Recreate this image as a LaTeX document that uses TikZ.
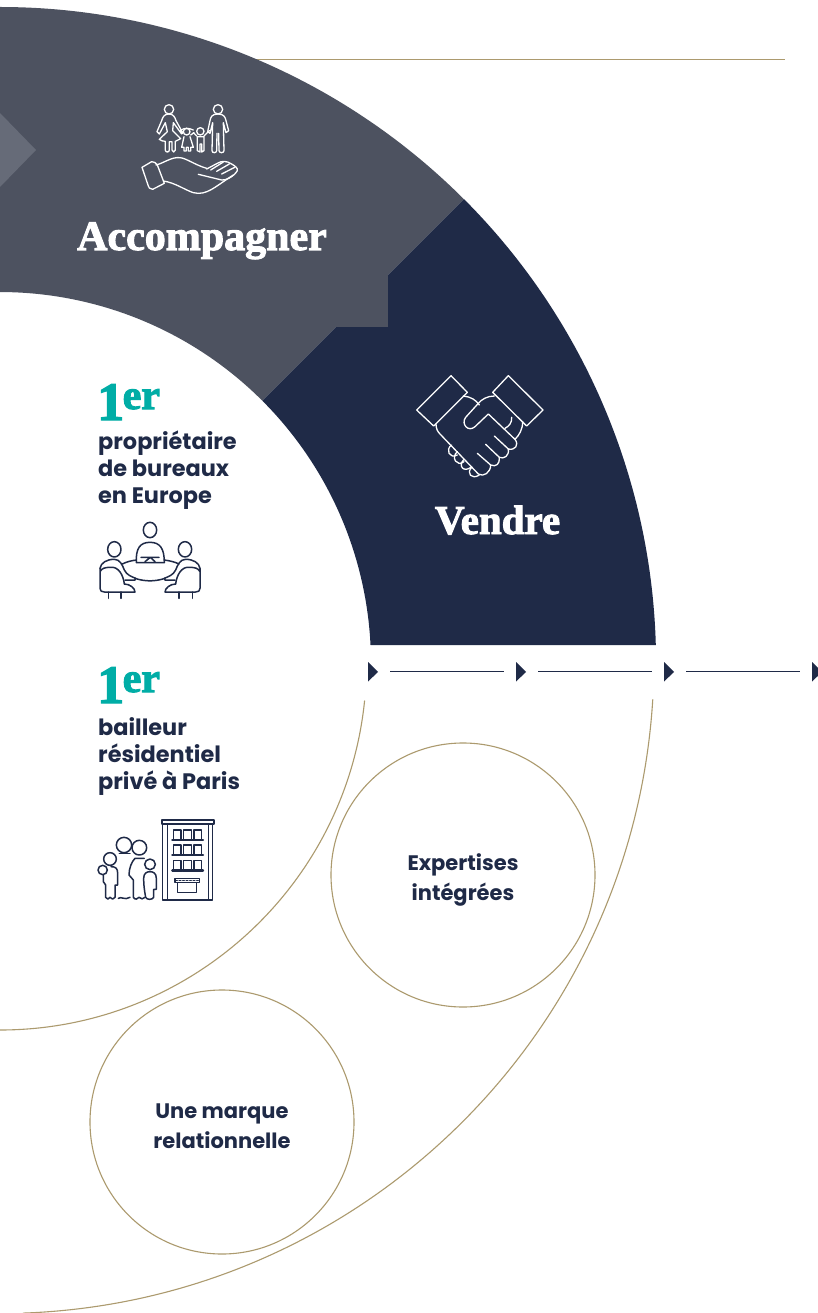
\documentclass[tikz,border=0pt]{standalone}
\usepackage{fontspec}
\newfontfamily\fat[UprightFont=* Bold,FakeBold=2.4]{Liberation Serif}
\newfontfamily\sfb[UprightFont=* Bold]{Poppins}
\definecolor{greyb}{HTML}{4D5260}
\definecolor{greyc}{HTML}{666B78}
\definecolor{navy}{HTML}{1F2A47}
\definecolor{teal2}{HTML}{00ADA6}
\definecolor{gold}{HTML}{AC9A6E}
\tikzset{
  goldline/.style={draw=gold,line width=1.1pt},
  iconw/.style={draw=white,line width=1.3pt,line join=round,line cap=round},
  iconn/.style={draw=navy,line width=1.5pt,line join=round,line cap=round},
  title/.style={font=\fat\fontsize{42}{42}\selectfont,text=white,inner sep=0pt,anchor=base},
  lab/.style={font=\sfb\fontsize{22.4}{27}\selectfont,text=navy,align=left,inner sep=0pt,anchor=north west},
  clab/.style={font=\sfb\fontsize{21}{30}\selectfont,text=navy,align=center,inner sep=0pt},
  rank/.style={font=\fat\fontsize{54}{54}\selectfont,text=teal2,inner sep=0pt,anchor=base west},
  tline/.style={draw=navy,line width=1pt},
  tri/.style={fill=navy},
}
\newcommand{\ranktext}{1\kern-1.5pt\raisebox{11pt}{\fontsize{42}{42}\selectfont er}}
\begin{document}
\begin{tikzpicture}[x=1pt,y=-1pt]
\useasboundingbox (0,0) rectangle (817,1313);
\fill[white] (0,0) rectangle (817,1313);
% top rule
\coordinate (ruleL) at (240,59.5);
\coordinate (ruleR) at (785,59.5);
\draw[goldline] (ruleL) -- (ruleR);
% grey sector
\fill[greyb] (0,7) arc[start angle=-90,end angle=-45,radius=656]
  -- (388,275) -- (388,327) -- (336,327) -- (262.3,400.7)
  arc[start angle=-45,end angle=-90,radius=371] -- cycle;
% navy sector
\fill[navy] (655.8,645) arc[start angle=-1.57,end angle=-45,radius=656]
  -- (388,275) -- (388,327) -- (336,327) -- (262.3,400.7)
  arc[start angle=-45,end angle=-2.78,radius=371] -- cycle;
% chevron
\fill[greyc] (0,113) -- (36,150) -- (0,187) -- cycle;
% gold arcs
\draw[goldline] (0,663.5) ++(5.8:366.5) arc[start angle=5.8,end angle=90,radius=366.5];
\draw[goldline] (0,659.5) ++(3.5:654) arc[start angle=3.5,end angle=88,radius=654];
% circles
\node[goldline,circle,minimum size=264pt,inner sep=0pt] (exp) at (463,875) {};
\node[goldline,circle,minimum size=264pt,inner sep=0pt] (rel) at (222,1122) {};
\node[clab] (expt) at (463,880) {Expertises\\intégrées};
\node[clab] (relt) at (222,1126) {Une marque\\relationnelle};
% timeline
\foreach \n/\xx in {a/368,b/516,c/664,d/812}{
  \fill[tri] (\xx,662) -- (\xx+10,672) -- (\xx,681.5) -- cycle;
}
\foreach \n/\l/\r in {a/390/504,b/538/652,c/686/800}{
  \coordinate (\n L) at (\l,671.5);
  \coordinate (\n R) at (\r,671.5);
  \draw[tline] (\n L) -- (\n R);
}
% titles
\node[title] (acc) at (202,250) {Accompagner};
\node[title,font=\fat\fontsize{41}{41}\selectfont] (ven) at (497.5,534) {Vendre};
% 1er blocks
\node[rank] (one1) at (97,420) {\ranktext};
\node[lab] (t1) at (98,431) {propriétaire\\de bureaux\\en Europe};
\node[rank] (one2) at (97,703) {\ranktext};
\node[lab] (t2) at (98,717) {bailleur\\résidentiel\\privé à Paris};
% handshake
\begin{scope}[shift={(400,360)},scale=1/3]
\draw[iconw] (153,47) -- (202,97) -- (101,198) -- (50,150) -- cycle;
\draw[iconw] (325,47) -- (278,97) -- (380,198) -- (429,150) -- cycle;
\draw[iconw] (190,108) .. controls (212,110) and (228,120) .. (238,135);
\draw[iconw] (283,108) .. controls (262,108) and (245,118) .. (235,130) -- (197,172)
  .. controls (182,192) and (205,218) .. (225,200) -- (265,162) -- (345,238)
  .. controls (358,255) and (345,272) .. (325,267) -- (283,228);
\draw[iconw] (325,267) .. controls (328,288) and (312,298) .. (298,292) -- (257,253);
\draw[iconw] (298,292) .. controls (300,312) and (288,322) .. (272,315) -- (232,280);
\draw[iconw] (272,315) .. controls (272,338) and (250,352) .. (235,342) -- (120,222) .. controls (112,214) and (108,205) .. (108,192);
\draw[iconw] (155,255) .. controls (135,268) and (148,298) .. (172,285);
\draw[iconw] (172,275) .. controls (152,292) and (170,322) .. (192,305);
\draw[iconw] (192,298) .. controls (172,318) and (192,340) .. (215,320);
\draw[iconw] (215,322) .. controls (198,340) and (215,360) .. (238,345);
\draw[iconw] (335,172) .. controls (336,188) and (328,198) .. (315,205);
\draw[iconw] (368,185) .. controls (368,208) and (358,225) .. (345,238);
\end{scope}
% family and hand
\begin{scope}[shift={(120,90)},scale=1/3]
\draw[iconw] (147,58) circle[radius=14];
\draw[iconw] (294,58) circle[radius=14];
\draw[iconw] (241,124) circle[radius=11];
\draw[iconw] (200,125) circle[radius=10];
\draw[iconw] (180,122) .. controls (195,112) and (205,114) .. (220,120);
% woman
\draw[iconw] (147,72) .. controls (132,72) and (128,82) .. (125,92) -- (111,125) -- (118,132) -- (136,98) -- (142,125) -- (118,148) .. controls (122,152) and (130,154) .. (136,154) -- (136,180) .. controls (136,188) and (148,188) .. (148,180) -- (148,155) -- (156,155) -- (156,180) .. controls (156,188) and (166,188) .. (166,180) -- (166,154) -- (182,146) -- (158,122) -- (160,98) -- (185,132);
\draw[iconw] (147,72) .. controls (160,72) and (165,82) .. (168,92) -- (188,128);
% man
\draw[iconw] (294,72) .. controls (275,72) and (272,82) .. (270,92) -- (263,125) -- (270,130) -- (278,98) -- (276,182) .. controls (276,190) and (290,190) .. (290,182) -- (291,130);
\draw[iconw] (294,72) .. controls (312,72) and (316,82) .. (318,92) -- (326,122) -- (318,128) -- (310,98) -- (312,182) .. controls (312,190) and (297,190) .. (297,182) -- (296,130);
% girl
\draw[iconw] (188,130) -- (180,122) (212,135) -- (222,128) (192,140) -- (185,172) -- (192,172) -- (192,183) -- (199,183) -- (199,172) -- (205,172) -- (205,183) -- (212,183) -- (212,172) -- (220,172) -- (210,140);
% boy
\draw[iconw] (230,138) -- (220,128) (252,138) -- (268,122) (232,140) -- (232,182) -- (240,186) -- (240,162) -- (245,162) -- (245,186) -- (252,182) -- (252,140) -- (232,140);
% hand
\draw[iconw] (66,232) -- (95,215) .. controls (102,215) and (108,218) .. (112,225) -- (133,280) -- (98,298) .. controls (90,298) and (85,292) .. (85,288) -- cycle;
\draw[iconw] (108,225) .. controls (130,220) and (155,200) .. (180,203) .. controls (200,205) and (225,225) .. (260,235);
\draw[iconw] (260,237) -- (292,220) .. controls (305,212) and (320,212) .. (335,222) .. controls (345,228) and (355,235) .. (352,242) .. controls (340,262) and (315,272) .. (305,270) -- (235,253);
\draw[iconw] (130,273) .. controls (165,278) and (195,300) .. (220,308) .. controls (260,318) and (285,290) .. (340,255);
\draw[iconw] (272,240) -- (310,216) (290,244) -- (328,222) (305,252) -- (344,232);
\end{scope}
% meeting icon
\begin{scope}[shift={(85,510)},scale=1/3]
\draw[iconn] (195,60) ellipse[x radius=20,y radius=23];
\draw[iconn] (88,118) ellipse[x radius=20,y radius=23];
\draw[iconn] (300,118) ellipse[x radius=20,y radius=23];
\draw[iconn] (154,158) .. controls (152,115) and (165,97) .. (195,97) .. controls (225,97) and (238,115) .. (238,158) -- cycle;
\draw[iconn] (168,142) -- (222,142) (180,155) -- (196,142) -- (210,155);
\draw[iconn] (112,162) .. controls (125,155) and (140,152) .. (154,150);
\draw[iconn] (238,150) .. controls (252,152) and (268,155) .. (282,162);
\draw[iconn] (150,205) .. controls (180,215) and (210,215) .. (240,205);
% left person
\draw[iconn] (45,175) .. controls (48,158) and (65,148) .. (88,148) .. controls (105,148) and (112,165) .. (118,180) .. controls (125,195) and (140,200) .. (152,205) -- (150,210) -- (120,210);
\draw[iconn] (45,175) -- (45,235) .. controls (45,243) and (50,246) .. (58,246) -- (150,246) .. controls (150,235) and (135,222) .. (118,222) .. controls (115,195) and (100,168) .. (75,172) .. controls (60,172) and (50,175) .. (45,185);
\draw[iconn] (70,246) -- (70,265) (108,246) -- (108,265);
% right person
\draw[iconn] (345,175) .. controls (342,158) and (325,148) .. (302,148) .. controls (285,148) and (278,165) .. (272,180) .. controls (265,195) and (250,200) .. (238,205) -- (240,210) -- (270,210);
\draw[iconn] (345,175) -- (345,235) .. controls (345,243) and (340,246) .. (332,246) -- (240,246) .. controls (240,235) and (255,222) .. (272,222) .. controls (275,195) and (290,168) .. (315,172) .. controls (330,172) and (340,175) .. (345,185);
\draw[iconn] (282,246) -- (282,265) (322,246) -- (322,265);
\end{scope}
% building icon
\begin{scope}[shift={(85,810)},scale=1/3]
\draw[iconn] (233,42) rectangle (383,270);
\draw[iconn,line width=1.8pt] (230,30) rectangle (387,42);
\draw[iconn] (248,42) -- (248,270) (370,42) -- (370,270);
\foreach \yy in {60,105,152}{
  \foreach \xx in {265,296,327}{
    \draw[iconn] (\xx,\yy+30) -- (\xx,\yy) -- (\xx+23,\yy) -- (\xx+23,\yy+30);
    \draw[iconn,line width=2.4pt] (\xx-3,\yy+30) -- (\xx+27,\yy+30);
  }
}
\draw[iconn] (270,205) rectangle (343,218);
\draw[iconn,dotted] (272,212) -- (341,212);
\draw[iconn] (277,218) rectangle (335,247);
\draw[iconn] (117,105) circle[radius=23];
\draw[iconn] (103,130) -- (135,130);
\draw[iconn] (163,113) circle[radius=22];
\draw[iconn] (75,147) circle[radius=19];
\draw[iconn] (53,180) circle[radius=14];
\draw[iconn] (195,163) circle[radius=16];
\draw[iconn] (78,170) .. controls (92,170) and (98,175) .. (98,190) -- (98,225) -- (90,225) -- (90,262) .. controls (88,270) and (78,268) .. (75,262) .. controls (72,268) and (65,270) .. (62,262) -- (62,225) -- (55,215) -- (55,195);
\draw[iconn] (100,265) .. controls (110,258) and (118,272) .. (135,262);
\draw[iconn] (178,145) -- (150,145) .. controls (140,155) and (132,175) .. (132,195) -- (145,210) -- (145,262) .. controls (150,270) and (158,268) .. (162,262) .. controls (168,268) and (175,268) .. (180,262);
\draw[iconn] (182,262) .. controls (178,240) and (176,225) .. (176,205) .. controls (176,190) and (185,185) .. (195,185) .. controls (205,185) and (214,190) .. (214,205) -- (214,238) -- (206,238) -- (206,262) .. controls (202,270) and (186,270) .. (182,262);
\end{scope}
\end{tikzpicture}
\end{document}
